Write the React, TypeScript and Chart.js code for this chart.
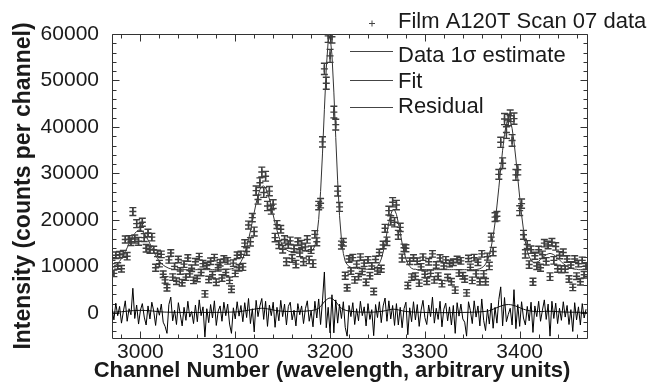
import React, { useEffect, useRef } from "react";
import { Chart, registerables } from "chart.js";

Chart.register(...registerables);

// ---------- data ----------
const CHANNEL_START = 2970;
const CHANNEL_STEP = 2;

const SERIES_LABELS = [
  "Film A120T Scan 07 data",
  "Data 1\u03c3 estimate",
  "Fit",
  "Residual",
];

// measured counts (one value per 2 channels, starting at 2970)
const DATA_COUNTS = [
  10600, 8500, 12400, 10100, 12500, 9500, 12700, 15800, 12200, 15800, // 2970
  15300, 21800, 15900, 19200, 15400, 18400, 19500, 16200, 13900, 17200, // 2990
  13600, 16300, 13600, 9700, 12800, 10600, 12600, 8300, 7100, 5400, // 3010
  11400, 12900, 7700, 10000, 6800, 11500, 9000, 6500, 10500, 7700, // 3030
  11800, 8400, 9600, 7000, 11000, 7400, 12100, 8700, 10600, 4100, // 3050
  10200, 7200, 11100, 8200, 11900, 6600, 9700, 10800, 7500, 11600, // 3070
  8700, 11200, 7000, 5100, 10700, 8500, 12400, 9700, 12600, 9900, // 3090
  15000, 13200, 18900, 15300, 20500, 17500, 26300, 24400, 28000, 30300, // 3110
  25900, 29400, 23000, 26200, 22200, 23400, 16200, 19000, 14700, 18000, // 3130
  13700, 15800, 11000, 14700, 15500, 11700, 13800, 10500, 15300, 12900, // 3150
  14800, 11000, 14200, 15800, 11400, 13600, 10600, 16900, 15300, 23100, // 3170
  23600, 36800, 52500, 49400, 59600, 55300, 59400, 43200, 40500, 26200, // 3190
  22800, 14600, 15200, 8000, 5400, 11600, 9000, 11900, 7100, 10500, // 3210
  7800, 12000, 8900, 10700, 6600, 11400, 8000, 10100, 4600, 11500, // 3230
  9000, 13000, 9500, 14600, 18200, 15400, 22000, 19900, 23800, 19500, // 3250
  23200, 16800, 18400, 11800, 14000, 13900, 5900, 11100, 7700, 11800, // 3270
  7900, 11100, 6400, 9900, 12000, 8300, 6800, 11000, 8500, 12700, // 3290
  7100, 10300, 7900, 11800, 6300, 10100, 11400, 7600, 10600, 6700, // 3310
  10900, 4900, 11500, 8600, 11200, 8000, 7300, 4300, 11700, 9800, // 3330
  7000, 11900, 8400, 10900, 6700, 12700, 8400, 6700, 12100, 10100, // 3350
  16300, 13200, 20600, 20800, 29800, 36700, 32200, 41700, 38800, 41500, // 3370
  42400, 37100, 41800, 29700, 30800, 22000, 23500, 16800, 12700, 14700, // 3390
  10400, 13600, 6700, 12300, 10100, 13600, 9700, 12500, 15000, 11100, // 3410
  14600, 7800, 15200, 11300, 14300, 9500, 12400, 9400, 13000, 9400, // 3430
  11600, 7300, 10300, 5500, 11600, 7900, 10600, 6700, 11300, 8200, // 3450
  10100, // 3470
];

// error bar half-length (1 sigma) for each measured point
const DATA_ERR = [
  700, 700, 700, 700, 700, 700, 750, 750, 800, 800,
  800, 850, 850, 850, 850, 850, 850, 850, 800, 800,
  800, 800, 750, 750, 700, 700, 700, 700, 700, 700,
  700, 700, 700, 700, 700, 700, 700, 700, 700, 700,
  700, 700, 700, 700, 700, 700, 700, 700, 700, 700,
  700, 700, 700, 700, 700, 700, 700, 700, 700, 700,
  700, 700, 700, 700, 700, 700, 700, 700, 700, 750,
  750, 800, 850, 900, 900, 950, 1000, 1000, 1050, 1050,
  1050, 1050, 1000, 1000, 950, 950, 900, 850, 850, 800,
  800, 800, 800, 800, 800, 800, 800, 800, 800, 800,
  800, 800, 800, 800, 800, 800, 800, 800, 850, 900,
  1000, 1100, 1200, 1300, 1400, 1400, 1350, 1250, 1150, 1050,
  950, 850, 800, 750, 700, 700, 700, 700, 700, 700,
  700, 700, 700, 700, 700, 700, 700, 700, 700, 700,
  700, 700, 750, 800, 850, 900, 950, 1000, 1000, 1000,
  1000, 950, 900, 850, 800, 750, 700, 700, 700, 700,
  700, 700, 700, 700, 700, 700, 700, 700, 700, 700,
  700, 700, 700, 700, 700, 700, 700, 700, 700, 700,
  700, 700, 700, 700, 700, 700, 700, 700, 700, 700,
  700, 700, 700, 700, 700, 700, 700, 700, 750, 800,
  850, 900, 950, 1000, 1050, 1100, 1150, 1200, 1250, 1250,
  1250, 1250, 1200, 1150, 1100, 1050, 1000, 950, 900, 850,
  800, 800, 750, 750, 750, 750, 750, 800, 800, 800,
  800, 800, 800, 800, 800, 750, 750, 750, 750, 700,
  700, 700, 700, 700, 700, 700, 700, 700, 700, 700,
  700,
];

// fitted model (same channel grid)
const FIT_COUNTS = [
  9800, 10000, 10300, 10700, 11100, 11700, 12400, 13200, 14000, 14900, // 2970
  15700, 16500, 17100, 17500, 17800, 17800, 17500, 17100, 16500, 15700, // 2990
  14900, 14000, 13200, 12400, 11700, 11100, 10700, 10300, 10000, 9800, // 3010
  9600, 9500, 9400, 9400, 9300, 9300, 9300, 9300, 9300, 9300, // 3030
  9300, 9300, 9300, 9300, 9300, 9300, 9300, 9300, 9300, 9300, // 3050
  9300, 9300, 9300, 9300, 9300, 9300, 9300, 9300, 9300, 9300, // 3070
  9300, 9300, 9400, 9500, 9600, 9800, 10000, 10400, 11000, 11800, // 3090
  12800, 14200, 15800, 17600, 19600, 21600, 23600, 25200, 26500, 27200, // 3110
  27300, 26900, 25900, 24500, 22800, 21100, 19300, 17800, 16400, 15300, // 3130
  14500, 13900, 13600, 13300, 13200, 13200, 13200, 13300, 13300, 13300, // 3150
  13300, 13300, 13300, 13200, 13200, 13200, 13600, 14400, 16400, 20100, // 3170
  26100, 34200, 43700, 52600, 58400, 59600, 55500, 47500, 37700, 28400, // 3190
  20900, 15800, 12800, 11100, 10400, 10000, 9800, 9700, 9600, 9600, // 3210
  9500, 9500, 9500, 9400, 9400, 9400, 9400, 9400, 9500, 9700, // 3230
  10000, 10600, 11600, 13100, 15000, 17200, 19400, 21200, 22200, 22200, // 3250
  21200, 19400, 17200, 15000, 13100, 11600, 10600, 10000, 9600, 9400, // 3270
  9400, 9300, 9300, 9300, 9300, 9300, 9300, 9300, 9300, 9300, // 3290
  9300, 9300, 9300, 9300, 9300, 9300, 9300, 9300, 9300, 9300, // 3310
  9300, 9300, 9300, 9300, 9300, 9300, 9300, 9300, 9300, 9300, // 3330
  9300, 9300, 9300, 9400, 9500, 9700, 10000, 10500, 11300, 12500, // 3350
  14200, 16500, 19400, 23000, 26900, 31100, 35000, 38400, 40700, 41800, // 3370
  41400, 39700, 36800, 33100, 29000, 24900, 21100, 17900, 15300, 13300, // 3390
  12100, 11300, 10900, 10800, 10900, 11100, 11500, 11900, 12200, 12500, // 3410
  12700, 12800, 12700, 12500, 12200, 11800, 11400, 11000, 10600, 10300, // 3430
  10000, 9800, 9600, 9500, 9400, 9400, 9300, 9300, 9300, 9300, // 3450
  9300, // 3470
];

// residual = data - fit (same channel grid)
const RESIDUAL_COUNTS = [
  800, -1500, 2100, -600, 1400, -2200, 300, 2600, -1800, 900, // 2970
  -400, 5300, -1200, 1700, -2400, 600, 2000, -900, -2600, 1500, // 2990
  -1300, 2300, 400, -2700, 1100, -500, 1900, -2000, -2900, -4400, // 3010
  1800, 3400, -1700, 600, -2500, 2200, -300, -2800, 1200, -1600, // 3030
  2500, -900, 300, -2300, 1700, -1900, 2800, -600, 1300, -5200, // 3050
  900, -2100, 1800, -1100, 2600, -2700, 400, 1500, -1800, 2300, // 3070
  -600, 1900, -2400, -4400, 1100, -1300, 2400, -700, 1600, -1900, // 3090
  2200, -1000, 3100, -2300, 900, -4100, 2700, -800, 1500, 3100, // 3110
  -1400, 2500, -2900, 1700, -600, 2300, -3100, 1200, -1700, 2700, // 3130
  -800, 1900, -2600, 1400, 2300, -1500, 600, -2800, 2000, -400, // 3150
  1500, -2300, 900, 2600, -1800, 400, -3000, 2500, -1100, 3000, // 3170
  -2500, 2600, 8800, -3200, 1200, -4300, 3900, -4300, 2800, -2200, // 3190
  1900, -1200, 2400, -3100, -5000, 1600, -800, 2200, -2500, 900, // 3210
  -1700, 2500, -600, 1300, -2800, 2000, -1400, 700, -4900, 1800, // 3230
  -1000, 2400, -2100, 1500, 3200, -1800, 2600, -1300, 1600, -2700, // 3250
  2000, -2600, 1200, -3200, 900, 2300, -4700, 1100, -1900, 2400, // 3270
  -1500, 1800, -2900, 600, 2700, -1000, -2500, 1700, -800, 3400, // 3290
  -2200, 1000, -1400, 2500, -3000, 800, 2100, -1700, 1300, -2600, // 3310
  1600, -4400, 2200, -700, 1900, -1300, -2000, -5000, 2400, 500, // 3330
  -2300, 2600, -900, 1500, -2800, 3000, -1600, -3800, 800, -2400, // 3350
  2100, -3300, 1200, -2200, 2900, 5600, -2800, 3300, -1900, -300, // 3370
  1000, -2600, 5000, -3400, 1800, -2900, 2400, -1100, -2600, 1400, // 3390
  -1700, 2300, -4200, 1500, -800, 2500, -1800, 600, 2800, -1400, // 3410
  1900, -5000, 2500, -1200, 2100, -2300, 1000, -1600, 2400, -900, // 3430
  1600, -2500, 700, -4000, 2200, -1500, 1300, -2600, 2000, -1100, // 3450
  800, // 3470
];

// smooth "Data 1 sigma estimate" curve
const SIGMA_EST_CHANNELS = [
  2970, 2980, 2990, 3000, 3010, 3020, 3030, 3060, 3100, 3110, 3120, 3128,
  3136, 3145, 3160, 3180, 3188, 3192, 3196, 3200, 3204, 3208, 3212, 3220,
  3240, 3255, 3262, 3267, 3272, 3280, 3300, 3340, 3365, 3372, 3378, 3383,
  3388, 3393, 3398, 3404, 3412, 3420, 3432, 3445, 3471,
];
const SIGMA_EST_VALUES = [
  150, 250, 450, 550, 450, 250, 150, 100, 200, 450, 800, 1000,
  800, 450, 300, 500, 1000, 1900, 2800, 3200, 2800, 1900, 1000, 400,
  150, 350, 650, 800, 650, 300, 100, 100, 350, 800, 1300, 1650,
  1800, 1650, 1300, 800, 400, 300, 350, 200, 100,
];

const X_TICKS = [3000, 3100, 3200, 3300, 3400];
const Y_TICKS = [0, 10000, 20000, 30000, 40000, 50000, 60000];
const X_MIN = 2970;
const X_MAX = 3471;
const Y_MIN = -5400;
const Y_MAX = 60000;
const X_MINOR_STEP = 20;
const Y_MINOR_STEP = 2000;

const X_TITLE = "Channel Number (wavelength, arbitrary units)";
const Y_TITLE = "Intensity (counts per channel)";

// ---------- style ----------
const FONT_FAMILY = "'Liberation Sans', Arial, Helvetica, sans-serif";
const TEXT_COLOR = "#1a1a1a";
const DATA_COLOR = "#3e3e3e";
const FRAME_COLOR = "#333333";

const framePlugin = {
  id: "frameTicks",
  beforeDatasetsDraw(chart: any) {
    const { ctx, chartArea: a, scales } = chart;
    const xs = scales.x;
    const ys = scales.y;
    const L = Math.round(a.left) + 0.5;
    const R = Math.round(a.right) + 0.5;
    const T = Math.round(a.top) + 0.5;
    const B = Math.round(a.bottom) + 0.5;
    ctx.save();
    ctx.strokeStyle = FRAME_COLOR;
    ctx.lineWidth = 1;
    ctx.beginPath();
    ctx.rect(L, T, R - L, B - T);
    for (let v = Math.ceil(X_MIN / X_MINOR_STEP) * X_MINOR_STEP; v <= X_MAX; v += X_MINOR_STEP) {
      const px = Math.round(xs.getPixelForValue(v)) + 0.5;
      const len = v % 100 === 0 ? 7 : 4;
      ctx.moveTo(px, B);
      ctx.lineTo(px, B - len);
      ctx.moveTo(px, T);
      ctx.lineTo(px, T + len);
    }
    for (let v = Math.ceil(Y_MIN / Y_MINOR_STEP) * Y_MINOR_STEP; v <= Y_MAX; v += Y_MINOR_STEP) {
      const py = Math.round(ys.getPixelForValue(v)) + 0.5;
      const len = v % 10000 === 0 ? 7 : 4;
      ctx.moveTo(L, py);
      ctx.lineTo(L + len, py);
      ctx.moveTo(R, py);
      ctx.lineTo(R - len, py);
    }
    ctx.stroke();
    ctx.restore();
  },
};

const errorBarPlugin = {
  id: "errorBars",
  afterDatasetsDraw(chart: any) {
    const { ctx, chartArea: a, scales } = chart;
    const ys = scales.y;
    const meta = chart.getDatasetMeta(0);
    ctx.save();
    ctx.beginPath();
    ctx.rect(a.left, a.top, a.right - a.left, a.bottom - a.top);
    ctx.clip();
    ctx.strokeStyle = DATA_COLOR;
    ctx.lineWidth = 1.4;
    ctx.beginPath();
    meta.data.forEach((el: any, i: number) => {
      const x = el.x;
      const y1 = ys.getPixelForValue(DATA_COUNTS[i] + DATA_ERR[i]);
      const y2 = ys.getPixelForValue(DATA_COUNTS[i] - DATA_ERR[i]);
      ctx.moveTo(x, y1);
      ctx.lineTo(x, y2);
      ctx.moveTo(x - 3.5, y1);
      ctx.lineTo(x + 3.5, y1);
      ctx.moveTo(x - 3.5, y2);
      ctx.lineTo(x + 3.5, y2);
    });
    ctx.stroke();
    ctx.restore();
  },
};

const textPlugin = {
  id: "titlesLegend",
  afterDraw(chart: any) {
    const { ctx } = chart;
    const labels = chart.data.datasets.map((d: any) => d.label);
    ctx.save();
    ctx.fillStyle = TEXT_COLOR;
    // axis titles
    ctx.font = `bold 22px ${FONT_FAMILY}`;
    ctx.textAlign = "center";
    ctx.textBaseline = "alphabetic";
    ctx.fillText(X_TITLE, 332, 377);
    ctx.save();
    ctx.font = `bold 23px ${FONT_FAMILY}`;
    ctx.translate(30, 186);
    ctx.rotate(-Math.PI / 2);
    ctx.fillText(Y_TITLE, 0, 0);
    ctx.restore();

    // legend
    ctx.font = `22px ${FONT_FAMILY}`;
    ctx.textAlign = "left";
    const textX = 398;
    const baselines = [28, 62, 88, 113];
    const lineYs = [0, 51.5, 80.5, 107.5];
    ctx.strokeStyle = "#444";
    ctx.lineWidth = 1;
    // marker for data
    ctx.beginPath();
    ctx.moveTo(369, 23.5);
    ctx.lineTo(375, 23.5);
    ctx.moveTo(372, 20.5);
    ctx.lineTo(372, 26.5);
    ctx.stroke();
    for (let i = 1; i < 4; i++) {
      ctx.beginPath();
      ctx.moveTo(350, lineYs[i]);
      ctx.lineTo(393, lineYs[i]);
      ctx.stroke();
    }
    for (let i = 0; i < 4; i++) {
      ctx.fillText(labels[i], textX, baselines[i]);
    }
    ctx.restore();
  },
};

export default function App() {
  const ref = useRef<HTMLCanvasElement>(null);

  useEffect(() => {
    const canvas = ref.current;
    if (!canvas) return;
    const channels = DATA_COUNTS.map((_, i) => CHANNEL_START + i * CHANNEL_STEP);
    const pts = (vals: number[]) => vals.map((v, i) => ({ x: channels[i], y: v }));
    const tickFont = { family: FONT_FAMILY, size: 21 };

    const chart = new Chart(canvas, {
      type: "scatter",
      data: {
        datasets: [
          {
            label: SERIES_LABELS[0],
            data: pts(DATA_COUNTS),
            showLine: false,
            pointStyle: "cross",
            pointRadius: 3.5,
            pointBorderWidth: 1.4,
            borderColor: DATA_COLOR,
            backgroundColor: DATA_COLOR,
            order: 0,
          },
          {
            label: SERIES_LABELS[1],
            data: SIGMA_EST_CHANNELS.map((c, i) => ({ x: c, y: SIGMA_EST_VALUES[i] })),
            showLine: true,
            pointRadius: 0,
            borderColor: "#111",
            borderWidth: 1,
            tension: 0.4,
            order: 3,
          },
          {
            label: SERIES_LABELS[2],
            data: pts(FIT_COUNTS),
            showLine: true,
            pointRadius: 0,
            borderColor: "#333",
            borderWidth: 1,
            order: 2,
          },
          {
            label: SERIES_LABELS[3],
            data: pts(RESIDUAL_COUNTS),
            showLine: true,
            pointRadius: 0,
            borderColor: "#000",
            borderWidth: 1,
            order: 1,
          },
        ],
      } as any,
      options: {
        responsive: false,
        animation: false,
        devicePixelRatio: 1,
        events: [],
        layout: { padding: { top: 34, right: 63, bottom: 0, left: 0 } },
        plugins: {
          legend: { display: false },
          tooltip: { enabled: false },
        },
        scales: {
          x: {
            type: "linear",
            min: X_MIN,
            max: X_MAX,
            grid: { display: false, drawTicks: false },
            border: { display: false },
            ticks: {
              font: tickFont,
              color: TEXT_COLOR,
              padding: 2,
              maxRotation: 0,
              autoSkip: false,
              callback: (v: any) => String(v),
            },
            afterBuildTicks: (scale: any) => {
              scale.ticks = X_TICKS.map((value) => ({ value }));
            },
            afterFit: (scale: any) => {
              scale.height = 48;
            },
          },
          y: {
            type: "linear",
            min: Y_MIN,
            max: Y_MAX,
            grid: { display: false, drawTicks: false },
            border: { display: false },
            ticks: {
              font: tickFont,
              color: TEXT_COLOR,
              padding: 13,
              autoSkip: false,
              callback: (v: any) => String(v),
            },
            afterBuildTicks: (scale: any) => {
              scale.ticks = Y_TICKS.map((value) => ({ value }));
            },
            afterFit: (scale: any) => {
              scale.width = 112;
            },
          },
        },
      } as any,
      plugins: [framePlugin, errorBarPlugin, textPlugin],
    });
    return () => chart.destroy();
  }, []);

  return (
    <div
      style={{
        position: "absolute",
        left: 0,
        top: 0,
        width: 650,
        height: 386,
        background: "#ffffff",
      }}
    >
      <canvas ref={ref} width={650} height={386} />
    </div>
  );
}
